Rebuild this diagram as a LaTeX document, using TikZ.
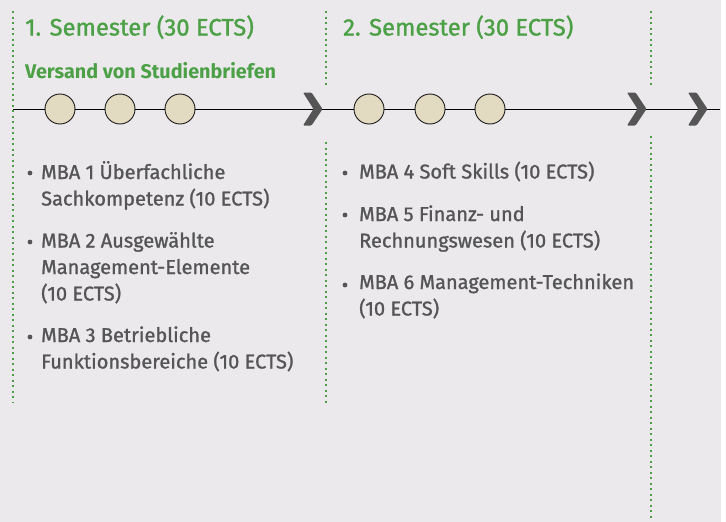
\documentclass[tikz,border=0pt]{standalone}
\usepackage{fontspec}
\setmainfont{Fira Sans}
\newfontfamily\medfont{Fira Sans}[FakeBold=1.2]
\definecolor{bg}{HTML}{EBE9EC}
\definecolor{grn}{HTML}{4CA046}
\definecolor{txt}{HTML}{555557}
\definecolor{circ}{HTML}{E3DAC2}
\definecolor{chev}{HTML}{555555}
\tikzset{
  sep/.style={grn, line width=2.3pt, dash pattern=on 2.2pt off 3.3pt},
  stop/.style={circle, draw=black!90, line width=0.9pt, fill=circ, minimum size=30pt, inner sep=0pt},
  head/.style={anchor=base west, inner sep=0pt, text=grn, font=\medfont\fontsize{23.8}{28}\selectfont},
  sub/.style={anchor=base west, inner sep=0pt, text=grn, font=\fontsize{19.8}{23}\selectfont\bfseries},
  item/.style={anchor=base west, inner sep=0pt, text=txt, align=left, font=\medfont\fontsize{20}{26.5}\selectfont},
  dot/.style={fill=txt},
  tl/.style={black, line width=0.9pt},
  chevron/.style={fill=chev, rounded corners=1pt}
}
\begin{document}
\begin{tikzpicture}[x=1pt,y=-1pt]
\useasboundingbox (0,0) rectangle (726,522);
\fill[bg] (0,0) rectangle (721,522);
% separators
\draw[sep] (13,11) -- (13,403);
\draw[sep] (326,11) -- (326,87);
\draw[sep] (326,142) -- (326,403);
\draw[sep] (651,11) -- (651,87);
\draw[sep] (651,136) -- (651,520);
% timeline
\coordinate (s) at (13,109);
\coordinate (e) at (720,109);
\node[stop] (c1) at (60,109) {};
\node[stop] (c2) at (120,109) {};
\node[stop] (c3) at (180,109) {};
\node[stop] (c4) at (369,109) {};
\node[stop] (c5) at (430,109) {};
\node[stop] (c6) at (490,109) {};
\draw[tl] (s) -- (c1) -- (c2) -- (c3) -- (c4) -- (c5) -- (c6) -- (e);
% chevrons
\foreach \x in {303,627,688}{
  \fill[chevron] (\x,92.5) -- (\x+8.5,92.5) -- (\x+19.5,109) -- (\x+8.5,125.5) -- (\x,125.5) -- (\x+10.5,109) -- cycle;
}
% headings
\node[head] (h1) at (25,35.5) {1. Semester (30 ECTS)};
\node[head] (h2) at (343,35.5) {2. Semester (30 ECTS)};
\node[sub] (v) at (25,78) {Versand von Studienbriefen};
% items semester 1 (anchored at last line's baseline)
\node[item] (m1) at (41,205.5) {MBA 1 Überfachliche\\Sachkompetenz (10 ECTS)};
\node[item] (m2) at (41,300.5) {MBA 2 Ausgewählte\\Management-Elemente\\(10 ECTS)};
\node[item] (m3) at (41,368.5) {MBA 3 Betriebliche\\Funktionsbereiche (10 ECTS)};
\fill[dot] (30,173) circle (2.4);
\fill[dot] (30,242) circle (2.4);
\fill[dot] (30,337) circle (2.4);
% items semester 2
\node[item] (m4) at (359,178.5) {MBA 4 Soft Skills (10 ECTS)};
\node[item] (m5) at (359,247.5) {MBA 5 Finanz- und\\Rechnungswesen (10 ECTS)};
\node[item] (m6) at (359,315.5) {MBA 6 Management-Techniken\\(10 ECTS)};
\fill[dot] (345,173) circle (2.4);
\fill[dot] (345,215) circle (2.4);
\fill[dot] (345,285) circle (2.4);
\end{tikzpicture}
\end{document}
